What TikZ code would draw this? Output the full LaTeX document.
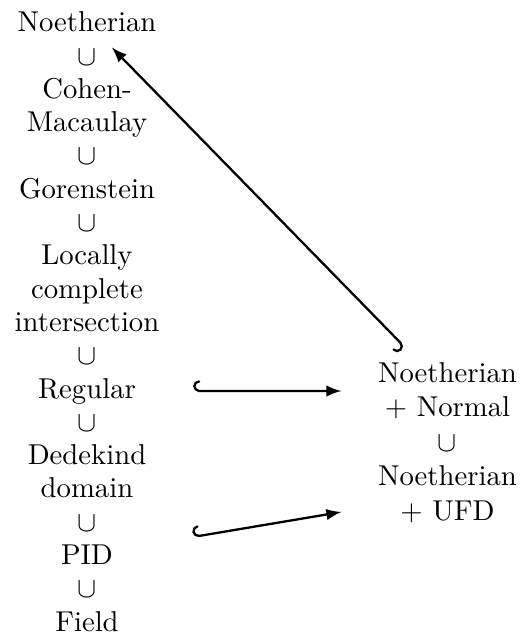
\documentclass[tikz,border=0pt]{standalone}
\usetikzlibrary{arrows}

\begin{document}
\begin{tikzpicture}
    [x=0.3484pt, y=-0.3484pt,
    ring/.style={align=center, text width=56pt, inner xsep=8.8pt,
    inner ysep=5.2pt, anchor=base, font=\fontsize{10}{11.6}\selectfont},
    wide/.style={ring, font=\fontsize{10}{12}\selectfont},
    sub/.style={anchor=base, inner sep=0pt},
    inc/.style={thick, right hook-latex}]

  \useasboundingbox (0,0) rectangle (521,634);

  % left column
  \node[ring] (noeth) at (87,31.8) {Noetherian};
  \node[sub] (s1) at (87,65.1) {$\cup$};
  \node[ring] (cm) at (87,98.4) {Cohen-\\Macaulay};
  \node[sub] (s2) at (87,165) {$\cup$};
  \node[ring] (gor) at (87,198.3) {Gorenstein};
  \node[sub] (s3) at (87,231.6) {$\cup$};
  \node[ring] (lci) at (87,264.9) {Locally\\complete\\intersection};
  \node[sub] (s4) at (87,364.8) {$\cup$};
  \node[ring] (reg) at (87,398.1) {Regular};
  \node[sub] (s5) at (87,431.4) {$\cup$};
  \node[ring] (ded) at (87,464.7) {Dedekind\\domain};
  \node[sub] (s6) at (87,531.3) {$\cup$};
  \node[ring] (pid) at (87,564.6) {PID};
  \node[sub] (s7) at (87,597.9) {$\cup$};
  \node[ring] (field) at (87,631.2) {Field};

  % right column
  \node[wide] (nnorm) at (447.5,382.5) {Noetherian\\$+$ Normal};
  \node[sub] (s8) at (447.5,451.3) {$\cup$};
  \node[wide] (nufd) at (447.5,485.7) {Noetherian\\$+$ UFD};

  \draw[inc] (nnorm) -- (noeth);
  \draw[inc] (reg) -- (nnorm);
  \draw[inc] (pid) -- (nufd);

\end{tikzpicture}
\end{document}
